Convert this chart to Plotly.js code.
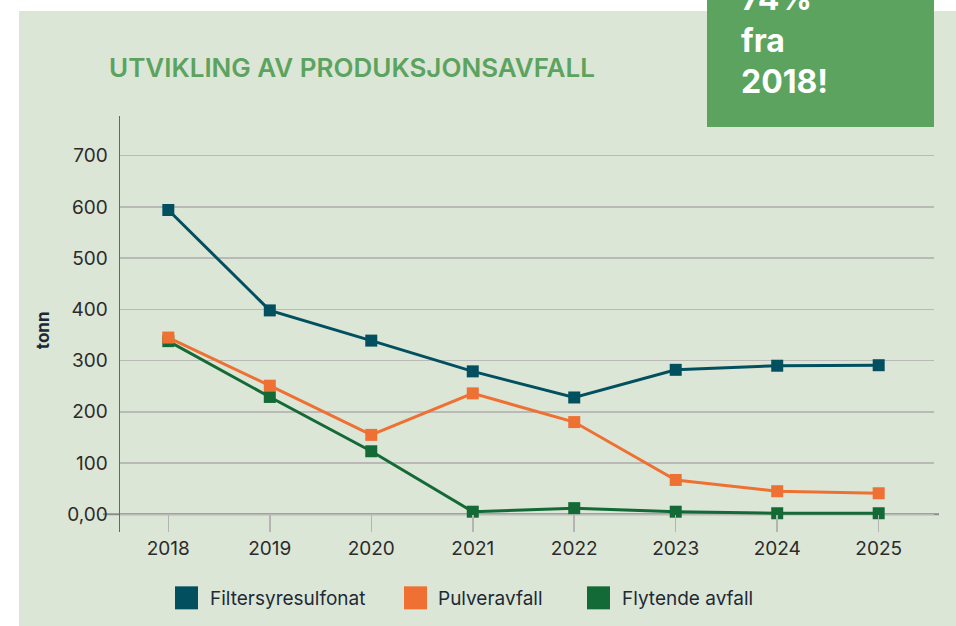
<!DOCTYPE html>
<html>
<head>
<meta charset="utf-8">
<script src="https://cdn.plot.ly/plotly-3.0.1.min.js"></script>
<style>html,body{margin:0;padding:0;background:#fff;}#chart{width:956px;height:626px;}</style>
</head>
<body>
<div id="chart"></div>
<script>
// ---- data ----
const years = ["2018","2019","2020","2021","2022","2023","2024","2025"];
const filtersyresulfonat = [594, 398, 339, 279, 228, 282, 290, 291];
const pulveravfall = [345, 251, 155, 236, 180, 67, 45, 41];
const flytendeAvfall = [338, 229, 123, 5, 12, 5, 2, 2];
const seriesNames = ["Filtersyresulfonat", "Pulveravfall", "Flytende avfall"];
const yTickVals = [0, 100, 200, 300, 400, 500, 600, 700];
const yTickText = ["0,00", "100", "200", "300", "400", "500", "600", "700"];
const titleText = "UTVIKLING AV PRODUKSJONSAVFALL";
const calloutLines = ["74%", "fra", "2018!"];
const yAxisTitle = "tonn";

// ---- style ----
const W = 956, H = 626;
const L = 120, R = 934, T = 116, B = 531.7;
const PW = R - L, PH = B - T;
const px = x => (x - L) / PW;
const py = y => (B - y) / PH;
const colors = ["#02505f", "#ee7033", "#146a36"];
const bg = "#dce6d6";
const font = "Inter, 'Open Sans', sans-serif";

function trace(name, y, color) {
  return {
    type: "scatter", mode: "lines+markers", name: name,
    x: years, y: y,
    line: {color: color, width: 3},
    marker: {symbol: "square", size: 12, color: color},
    showlegend: false, hoverinfo: "x+y"
  };
}
const data = [
  trace(seriesNames[0], filtersyresulfonat, colors[0]),
  trace(seriesNames[2], flytendeAvfall, colors[2]),
  trace(seriesNames[1], pulveravfall, colors[1])
];

const shapes = [
  // background panel
  {type: "rect", xref: "paper", yref: "paper", x0: px(19), x1: px(960), y0: py(11), y1: py(630),
   fillcolor: bg, line: {width: 0}, layer: "below"},
  // callout box
  {type: "rect", xref: "paper", yref: "paper", x0: px(707), x1: px(934), y0: py(127), y1: py(-5),
   fillcolor: "#5ba35e", line: {width: 0}, layer: "above"},
  // zero line
  {type: "line", xref: "paper", yref: "y", x0: px(103), x1: px(939), y0: 0, y1: 0,
   line: {color: "#8c8d8a", width: 2}, layer: "below"}
];

const annotations = [
  {text: titleText, xref: "paper", yref: "paper", x: px(107), y: py(68), xanchor: "left", yanchor: "middle",
   showarrow: false, font: {family: font, size: 26, color: "#5ba35e", weight: 600}},
  {text: yAxisTitle, xref: "paper", yref: "paper", x: px(43), y: py(330), xanchor: "center", yanchor: "middle",
   textangle: -90, showarrow: false, font: {family: font, size: 17, color: "#1b2836", weight: 700}},
  {text: calloutLines.join("<br>"), xref: "paper", yref: "paper", x: px(739), y: py(40), xanchor: "left", yanchor: "middle",
   align: "left", showarrow: false, font: {family: font, size: 32, color: "#ffffff", weight: 700}}
];
// legend
const legSq = [175, 404, 587];
const legTx = [208, 436, 620];
const legOrder = [0, 1, 2];
legOrder.forEach((k, i) => {
  shapes.push({type: "rect", xref: "paper", yref: "paper", x0: px(legSq[i]), x1: px(legSq[i] + 23),
    y0: py(609), y1: py(586), fillcolor: colors[k], line: {width: 0}, layer: "above"});
  annotations.push({text: seriesNames[k], xref: "paper", yref: "paper", x: px(legTx[i]), y: py(598),
    xanchor: "left", yanchor: "middle", showarrow: false, font: {family: font, size: 19, color: "#1e2a36"}});
});

const layout = {
  width: W, height: H,
  margin: {l: L, r: W - R, t: T, b: H - B, pad: 0},
  paper_bgcolor: "#ffffff", plot_bgcolor: "rgba(0,0,0,0)",
  showlegend: false,
  xaxis: {
    type: "category", range: [-0.476, 7.545], showgrid: false, zeroline: false, showline: false,
    ticks: "inside", ticklen: 17, tickwidth: 1.5, tickcolor: "#b4b5b3",
    tickfont: {family: font, size: 19, color: "#2b2b2b"}, ticklabelstandoff: 3
  },
  yaxis: {
    range: [-34.6, 777.5], tickvals: yTickVals, ticktext: yTickText,
    showgrid: true, gridcolor: "#b9bab7", gridwidth: 1.5, zeroline: false,
    showline: true, linecolor: "#666666", linewidth: 1.5, ticks: "",
    tickfont: {family: font, size: 19, color: "#2b2b2b"}, ticklabelstandoff: 7
  },
  shapes: shapes, annotations: annotations
};

Plotly.newPlot("chart", data, layout, {displayModeBar: false, staticPlot: true});
</script>
</body>
</html>
